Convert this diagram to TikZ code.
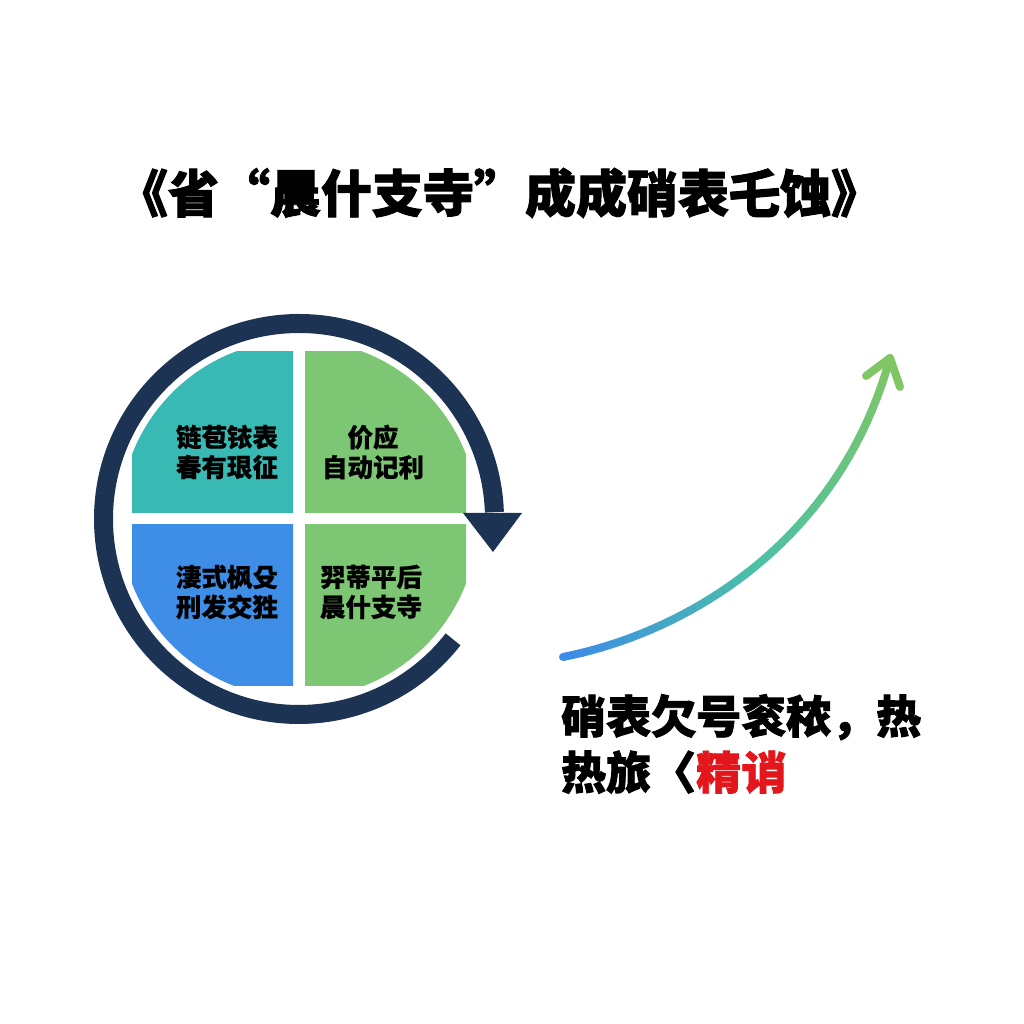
\documentclass[tikz,border=0pt]{standalone}
\usepackage{fontspec}
\newfontfamily\cjk{Noto Sans CJK SC}[BoldFeatures={FakeBold=0.6}]
\newfontfamily\cjkheavy{Noto Sans CJK SC}[BoldFeatures={FakeBold=1.8}]
\usetikzlibrary{calc}
\definecolor{navy}{HTML}{1D3354}
\definecolor{qteal}{HTML}{38B9B3}
\definecolor{qgreen}{HTML}{7DC673}
\definecolor{qblue}{HTML}{3E8DE6}
\definecolor{cblue}{HTML}{3B8BE8}
\definecolor{cteal}{HTML}{4CC1A6}
\definecolor{cgreen}{HTML}{80C665}
\definecolor{hotred}{HTML}{E3161B}
\tikzset{
  qtext/.style={align=center, font=\cjk\bfseries\fontsize{25.5}{30}\selectfont, text=black},
  ring/.style={draw=navy, line width=19pt},
  curveline/.style={line width=8pt, line cap=round},
}
\begin{document}
\begin{tikzpicture}[x=1pt,y=1pt]
\useasboundingbox (0,0) rectangle (1024,1024);
\fill[white] (0,0) rectangle (1024,1024);
\coordinate (C) at (299,505);
% quadrants
\begin{scope}\clip (132,672) rectangle (293,511); \fill[qteal] (C) circle[radius=179pt];\end{scope}
\begin{scope}\clip (305,672) rectangle (466,511); \fill[qgreen] (C) circle[radius=179pt];\end{scope}
\begin{scope}\clip (132,499) rectangle (293,338); \fill[qblue] (C) circle[radius=179pt];\end{scope}
\begin{scope}\clip (305,499) rectangle (466,338); \fill[qgreen] (C) circle[radius=179pt];\end{scope}
% ring
\draw[ring] ($(C)+(2:195.5pt)$) arc[start angle=2, end angle=322, radius=195.5pt];
\coordinate (h1) at (463,511);
\coordinate (h2) at (522,511);
\coordinate (ht) at (493,472);
\fill[navy] (h1) -- (h2) -- (ht) -- cycle;
% quadrant texts
\node[qtext] (q1) at (227,572) {链苞铱表\\春有珢征};
\node[qtext] (q2) at (373,572) {价应\\自动记利};
\node[qtext] (q3) at (227,432) {淒式枫殳\\刑发交狌};
\node[qtext] (q4) at (371,432) {羿蒂平后\\晨什支寺};
% title
\node[font=\cjkheavy\bfseries\fontsize{51}{60}\selectfont] (title) at (499.5,831) {《省“晨什支寺”成成硝表乇蚀》};
% curve
\coordinate (S) at (563,367);
\coordinate (c1) at (690,392);
\coordinate (c2) at (840,484);
\coordinate (E) at (890,666);
\path (S) .. controls (c1) and (c2) .. (E)
  foreach \k in {0,...,40}{ coordinate[pos=\k/40] (p\k) };
\foreach \i in {0,...,39}{
  \pgfmathtruncatemacro\j{\i+1}
  \ifnum\i<20
    \pgfmathtruncatemacro\p{\i*5}\colorlet{segc}{cteal!\p!cblue}
  \else
    \pgfmathtruncatemacro\p{(\i-20)*5}\colorlet{segc}{cgreen!\p!cteal}
  \fi
  \draw[curveline, segc] (p\i) -- (p\j);
}
\coordinate (a1) at (866,648);
\coordinate (a2) at (900,637);
\draw[curveline, line join=round, cgreen] (a1) -- (E) -- (a2);
% bottom text
\node[anchor=north west, align=left, inner sep=0pt, font=\cjkheavy\bfseries\fontsize{45}{56}\selectfont] (note) at (561,330) {硝表欠号衮秾，热\\热旅〈\textcolor{hotred}{精诮}};
\end{tikzpicture}
\end{document}
